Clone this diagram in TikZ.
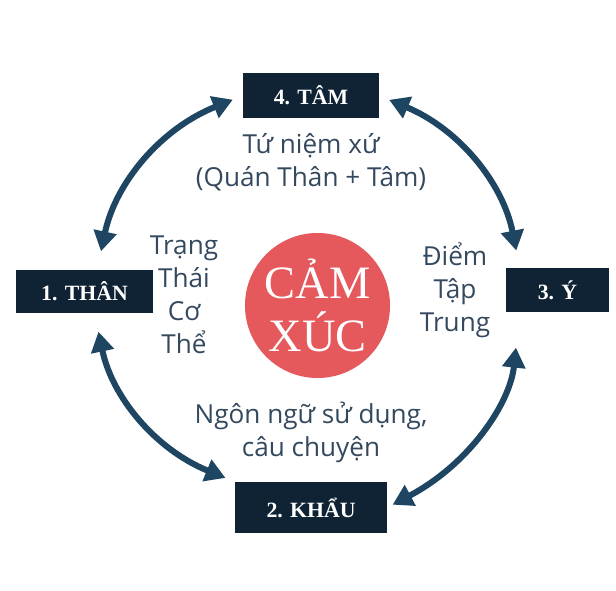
\documentclass[tikz,border=0pt]{standalone}
\usepackage{fontspec}
\setmainfont{Open Sans}
\newfontfamily\serifvn{Liberation Serif}
\usetikzlibrary{arrows.meta}
\definecolor{navy}{HTML}{0F2335}
\definecolor{arrowblue}{HTML}{1E4561}
\definecolor{coral}{HTML}{E5585C}
\definecolor{slate}{HTML}{34495E}

\begin{document}
\begin{tikzpicture}[x=0.025cm,y=0.025cm,
        box/.style={fill=navy,text=white,inner sep=0pt,font=\serifvn\bfseries\fontsize{15.5pt}{18pt}\selectfont},
        lbl/.style={text=slate,align=center,font=\fontsize{18.6pt}{23.5pt}\selectfont},
        cyc/.style={draw=arrowblue,line width=4.3pt,{Triangle[length=0.5cm,width=0.56cm]}-{Triangle[length=0.5cm,width=0.56cm]}}]
                \useasboundingbox (0,0) rectangle (616,-590);
                \node[box,minimum width=3.375cm,minimum height=1.125cm] (tam) at (311,-95.5) {4. TÂM};
                \node[box,minimum width=3.425cm,minimum height=1.075cm] (than) at (84.5,-291.5) {1. THÂN};
                \node[box,minimum width=2.575cm,minimum height=1.075cm] (yi) at (557.5,-290) {3. Ý};
                \node[box,minimum width=3.8cm,minimum height=1.275cm] (khau) at (311,-507.5) {2. KHẨU};
                \node[circle,fill=coral,text=white,minimum size=3.625cm,inner sep=0pt,align=center,font=\serifvn\fontsize{33pt}{38pt}\selectfont] (cam) at (317.5,-305.5) {CẢM\\XÚC};
                \node[lbl] (tuniem) at (311,-162) {Tứ niệm xứ\\(Quán Thân + Tâm)};
                \node[lbl] (trang) at (184,-295) {Trạng\\Thái\\Cơ\\Thể};
                \node[lbl] (diem) at (455,-290) {Điểm\\Tập\\Trung};
                \node[lbl] (ngon) at (311,-432) {Ngôn ngữ sử dụng,\\câu chuyện};
                \draw[cyc,shorten <=0.47cm,shorten >=0.28cm] (than.60) to[bend left=28] (tam.west);
                \draw[cyc,shorten <=0.28cm,shorten >=0.45cm] (tam.east) to[bend left=28] (yi.150);
                \draw[cyc,shorten <=0.9cm,shorten >=0.15cm] (yi.210) to[bend left=28] (khau.east);
                \draw[cyc,shorten <=0.25cm,shorten >=0.47cm] (khau.north west) to[bend left=28] (than.295);
            \end{tikzpicture}
\end{document}
